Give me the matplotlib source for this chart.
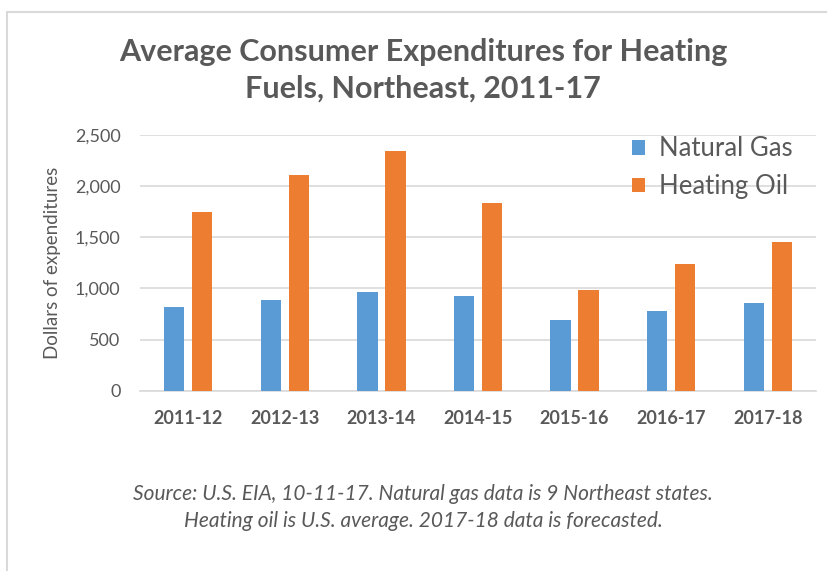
import numpy as np
import matplotlib
matplotlib.use('Agg')
import matplotlib.pyplot as plt
from matplotlib.patches import Rectangle

# 데이터
seasons = ['2011-12', '2012-13', '2013-14', '2014-15', '2015-16', '2016-17', '2017-18']
natural_gas = [815, 890, 965, 925, 695, 780, 855]
heating_oil = [1750, 2110, 2345, 1840, 985, 1240, 1455]
y_ticks = [0, 500, 1000, 1500, 2000, 2500]

BLUE = '#5B9BD5'
ORANGE = '#ED7D31'
TEXT = '#595959'
GRID = '#D9D9D9'

plt.rcParams['font.family'] = ['Lato', 'DejaVu Sans']

fig = plt.figure(figsize=(8.28, 5.71), dpi=100)

# 바깥 테두리 (위, 왼쪽만 보임)
fig.patches.append(Rectangle((7 / 828, -0.1), 1.2, (571 - 12) / 571 + 0.1,
                             transform=fig.transFigure, fill=False,
                             edgecolor='#D9D9D9', linewidth=1.5))

ax = fig.add_axes([140 / 828, (571 - 390.7) / 571, 676 / 828, 255.7 / 571])

x = np.arange(len(seasons))
w = 0.21
gap = 0.08
ax.bar(x - (w + gap) / 2, natural_gas, width=w, color=BLUE, label='Natural Gas', zorder=3)
ax.bar(x + (w + gap) / 2, heating_oil, width=w, color=ORANGE, label='Heating Oil', zorder=3)

ax.set_xlim(-0.5, len(seasons) - 0.5)
ax.set_ylim(0, 2500)
ax.set_yticks(y_ticks)
ax.set_yticklabels([f'{v:,}' for v in y_ticks])
ax.set_xticks(x)
ax.set_xticklabels(seasons, fontweight='bold')

ax.grid(axis='y', color=GRID, linewidth=1.2, zorder=0)
for s in ['top', 'right', 'left']:
    ax.spines[s].set_visible(False)
ax.spines['bottom'].set_color(GRID)
ax.spines['bottom'].set_linewidth(1.2)
ax.tick_params(axis='both', length=0, colors=TEXT)
ax.tick_params(axis='y', labelsize=13, pad=14)
ax.tick_params(axis='x', labelsize=13, pad=14)

ax.set_ylabel('Dollars of expenditures', fontsize=13.5, color=TEXT, labelpad=10)

leg = ax.legend(loc='upper right', bbox_to_anchor=(1.0, 1.085), frameon=False,
                fontsize=18.5, handlelength=0.5, handleheight=0.5,
                handletextpad=0.55, labelspacing=0.5)
for t in leg.get_texts():
    t.set_color(TEXT)

fig.text(0.511, 0.877, 'Average Consumer Expenditures for Heating\nFuels, Northeast, 2011-17',
         ha='center', va='center', fontsize=22, fontweight='bold', color=TEXT,
         linespacing=1.4)

fig.text(0.511, 0.111,
         'Source: U.S. EIA, 10-11-17. Natural gas data is 9 Northeast states.\n'
         'Heating oil is U.S. average. 2017-18 data is forecasted.',
         ha='center', va='center', fontsize=15, style='italic', color=TEXT,
         linespacing=1.45)

fig.savefig('out.png', dpi=100)
